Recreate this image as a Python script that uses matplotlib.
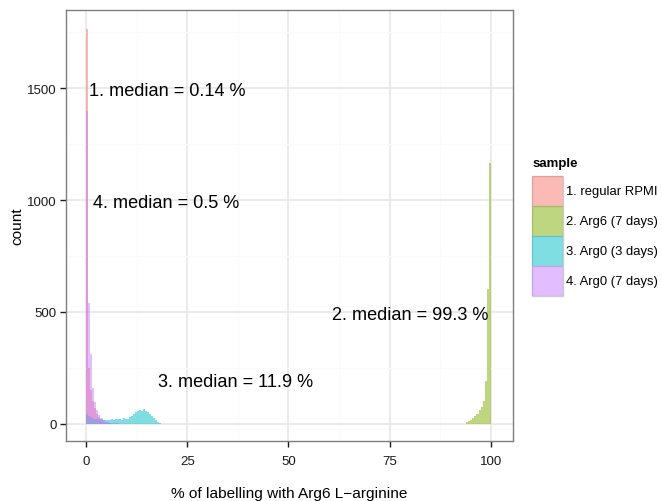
import numpy as np
import matplotlib
matplotlib.use('Agg')
import matplotlib.pyplot as plt
from matplotlib.patches import Rectangle

plt.rcParams['font.family'] = ['Liberation Sans', 'DejaVu Sans']

# histogram counts, bin width 0.5, listed from the first bin's left edge
binw = 0.5
samples = ['1. regular RPMI', '2. Arg6 (7 days)', '3. Arg0 (3 days)', '4. Arg0 (7 days)']
colors = ['#F8766D', '#7CAE00', '#00BFC4', '#C77CFF']

rpmi_start = 0.0
rpmi = [1765, 250, 150, 100, 70, 45, 28, 16, 9, 5, 3, 2]

arg6_start = 94.0
arg6 = [5, 12, 18, 25, 33, 45, 60, 75, 100, 190, 600, 1165]

arg0_3d_start = 0.0
arg0_3d = [45, 35, 28, 24, 22, 20, 20, 19, 18, 18,
           17, 18, 20, 16, 22, 19, 21, 18, 23, 20,
           22, 28, 35, 42, 50,
           55, 62, 58, 64, 55,
           50, 42, 35, 25, 15, 6, 2]

arg0_7d_start = 0.0
arg0_7d = [1400, 540, 313, 160, 98, 62, 38, 24, 14, 9, 6, 4, 3, 2, 2, 1]

labels = ['1. median = 0.14 %', '2. median = 99.3 %', '3. median = 11.9 %', '4. median = 0.5 %']
label_x = [20.1, 80.2, 36.9, 19.8]
label_y = [1490, 490, 190, 990]

xticks = [0, 25, 50, 75, 100]
yticks = [0, 500, 1000, 1500]

fig = plt.figure(figsize=(6.62, 5.02), dpi=100)
ax = fig.add_axes([66/662, 1-442/502, (513-66)/662, (442-11)/502])

data = [(rpmi_start, rpmi), (arg6_start, arg6), (arg0_3d_start, arg0_3d), (arg0_7d_start, arg0_7d)]
for (start, counts), c in zip(data, colors):
    left = start + binw*np.arange(len(counts))
    ax.bar(left, counts, width=binw, align='edge', color=c, alpha=0.5, linewidth=0, zorder=3)

for t, x, y in zip(labels, label_x, label_y):
    ax.text(x, y, t, ha='center', va='center', fontsize=13.1, color='black', zorder=5)

ax.set_xlim(-5.03, 105.53)
ax.set_ylim(-78, 1850)
ax.set_xticks(xticks)
ax.set_yticks(yticks)
ax.set_xticks([12.5, 37.5, 62.5, 87.5], minor=True)
ax.set_yticks([250, 750, 1250, 1750], minor=True)
ax.grid(which='major', color='#E5E5E5', linewidth=1.1, zorder=0)
ax.grid(which='minor', color='#FAFAFA', linewidth=1.0, zorder=0)
ax.set_axisbelow(True)
ax.tick_params(which='minor', length=0)
ax.tick_params(which='major', length=4.3, width=1, color='#1a1a1a', labelsize=9.5, labelcolor='#1a1a1a')
ax.tick_params(axis='x', pad=5.5)
ax.tick_params(axis='y', pad=2.5)
for s in ax.spines.values():
    s.set_color('#7F7F7F')
    s.set_linewidth(1.0)

ax.set_xlabel('% of labelling with Arg6 L\u2212arginine', fontsize=11.1, labelpad=14)
ax.set_ylabel('count', fontsize=11.1, labelpad=2)

# legend drawn by hand
fig.text(533/662, 1-164/502, 'sample', fontsize=9.5, fontweight='bold', ha='left', va='center')
for i, (s, c) in enumerate(zip(samples, colors)):
    top = 177 + 30*i
    fig.add_artist(Rectangle((532/662, 1-(top+30)/502), 31/662, 30/502, transform=fig.transFigure,
                             facecolor='white', edgecolor='#CCCCCC', linewidth=1))
    fig.add_artist(Rectangle((532/662, 1-(top+30)/502), 31/662, 30/502, transform=fig.transFigure,
                             facecolor=c, alpha=0.5, linewidth=0))
    fig.text(566/662, 1-(top+15)/502, s, fontsize=9.4, ha='left', va='center')

fig.savefig('out.png', dpi=100)
